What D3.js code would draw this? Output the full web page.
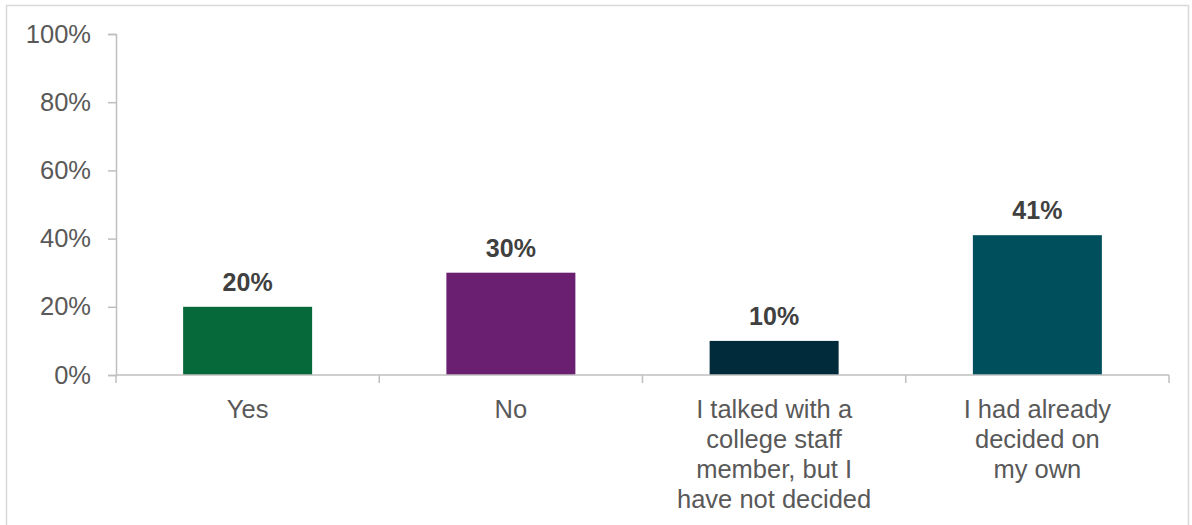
<!DOCTYPE html>
<html>
<head>
<meta charset="utf-8">
<script src="https://cdn.jsdelivr.net/npm/d3@7"></script>
<style>
  html, body { margin: 0; padding: 0; background: #fff; }
  svg { display: block; }
  text { font-family: "Liberation Sans", Arial, sans-serif; }
</style>
</head>
<body>
<svg id="chart" width="1192" height="525"></svg>
<script>
// Survey responses and their shares
const categories = [
  ["Yes"],
  ["No"],
  ["I talked with a", "college staff", "member, but I", "have not decided"],
  ["I had already", "decided on", "my own"]
];
const values = [20, 30, 10, 41];
const colors = ["#056939", "#6a1f70", "#012a3a", "#004f5c"];
const yTicks = [0, 20, 40, 60, 80, 100];

const svg = d3.select("#chart");
const W = 1192, H = 525;
const margin = { left: 116, right: 23, top: 34, bottom: 150 };
const labelSize = 25.5;

// Outer frame
svg.append("rect")
  .attr("x", 6.5).attr("y", 5.5)
  .attr("width", W - 10).attr("height", H)
  .attr("fill", "none").attr("stroke", "#d9d9d9").attr("stroke-width", 1.5);

const x = d3.scaleBand()
  .domain(d3.range(categories.length))
  .range([margin.left, W - margin.right])
  .paddingInner(0.51).paddingOuter(0.255);

const y = d3.scaleLinear()
  .domain([0, 100])
  .range([375, margin.top]);

// Y axis
const yAxis = svg.append("g")
  .attr("transform", `translate(${margin.left},0)`)
  .call(d3.axisLeft(y).tickValues(yTicks).tickFormat(d => d + "%").tickSize(8).tickPadding(17));
yAxis.select(".domain").attr("stroke", "#bfbfbf").attr("stroke-width", 1.5);
yAxis.selectAll(".tick line").attr("stroke", "#bfbfbf").attr("stroke-width", 1.5);
yAxis.selectAll(".tick text")
  .attr("fill", "#595959").attr("font-size", labelSize);

// Bars
svg.append("g").selectAll("rect")
  .data(values)
  .join("rect")
  .attr("x", (d, i) => x(i))
  .attr("y", d => y(d))
  .attr("width", x.bandwidth())
  .attr("height", d => y(0) - y(d))
  .attr("fill", (d, i) => colors[i]);

// X axis with ticks at category boundaries
const xEdges = d3.range(categories.length + 1).map(i => margin.left + i * (W - margin.left - margin.right) / categories.length);
const xg = svg.append("g");
xg.append("line")
  .attr("x1", margin.left).attr("x2", W - margin.right)
  .attr("y1", y(0)).attr("y2", y(0))
  .attr("stroke", "#bfbfbf").attr("stroke-width", 1.5);
xg.selectAll(".edge")
  .data(xEdges)
  .join("line")
  .attr("x1", d => d).attr("x2", d => d)
  .attr("y1", y(0)).attr("y2", y(0) + 8)
  .attr("stroke", "#bfbfbf").attr("stroke-width", 1.5);

// Category labels
const labels = svg.append("g").selectAll("text")
  .data(categories)
  .join("text")
  .attr("text-anchor", "middle")
  .attr("fill", "#595959")
  .attr("font-size", labelSize);
labels.each(function(lines, i) {
  const cx = x(i) + x.bandwidth() / 2;
  d3.select(this).selectAll("tspan")
    .data(lines)
    .join("tspan")
    .attr("x", cx)
    .attr("y", (d, j) => 418 + j * 30)
    .text(d => d);
});

// Value labels
svg.append("g").selectAll("text")
  .data(values)
  .join("text")
  .attr("x", (d, i) => x(i) + x.bandwidth() / 2)
  .attr("y", d => y(d) - 16)
  .attr("text-anchor", "middle")
  .attr("fill", "#404040")
  .attr("font-size", 25)
  .attr("font-weight", "bold")
  .text(d => d + "%");
</script>
</body>
</html>
